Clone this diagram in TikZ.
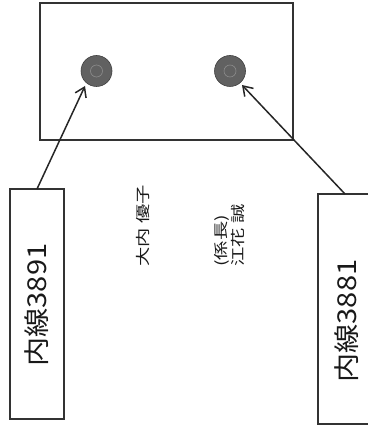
\documentclass[tikz,border=0pt]{standalone}
\usepackage{fontspec}
\setmainfont{Noto Sans CJK JP}
\usetikzlibrary{arrows.meta}
\begin{document}
\begin{tikzpicture}[x=1pt,y=-1pt,
  frame/.style={draw=black!80, line width=1.4pt},
  hole/.style={circle, draw=black!75, fill=black!62, line width=0.6pt, minimum size=31pt, inner sep=0pt},
  lbl/.style={rotate=90, font=\fontsize{26}{28}\selectfont, inner sep=0pt, text=black!90},
  person/.style={rotate=90, font=\fontsize{14.5}{16}\selectfont, inner sep=0pt, align=left, text=black!90},
  ptr/.style={draw=black!85, line width=1.5pt, -{Straight Barb[length=9pt,width=12pt]}}]
\useasboundingbox (0,0) rectangle (368,427);
\node[frame, draw, minimum width=253pt, minimum height=137pt, inner sep=0pt] (plate) at (166.5,71.5) {};
\node[hole] (h1) at (96.5,71) {};
\node[hole] (h2) at (230,71) {};
\draw[black!45, line width=0.6pt] (h1) circle (6pt);
\draw[black!45, line width=0.6pt] (h2) circle (6pt);
\node[frame, draw, minimum width=54pt, minimum height=230pt, inner sep=0pt] (b1) at (37,304) {};
\node[lbl] (t1) at (36.5,305) {\scalebox{1.12}[1]{内線3891}};
\draw[frame] (368,194) -- (318,194) -- (318,424) -- (368,424);
\coordinate (b2top) at (345,194);
\node[lbl] (t2) at (346.5,321) {\scalebox{1.12}[1]{内線3881}};
\node[person, anchor=west] (n1) at (143.5,267) {\scalebox{1.33}[1]{大内 優子}};
\node[person, anchor=west] (n2a) at (221.5,267) {\scalebox{1.33}[1]{(係長)}};
\node[person, anchor=west] (n2b) at (237.5,267) {\scalebox{1.33}[1]{江花 誠}};
\coordinate (a1) at (37,189);
\coordinate (e1) at (85,86);
\coordinate (e2) at (242,85);
\draw[ptr] (a1) -- (e1);
\draw[ptr] (b2top) -- (e2);
\end{tikzpicture}
\end{document}
